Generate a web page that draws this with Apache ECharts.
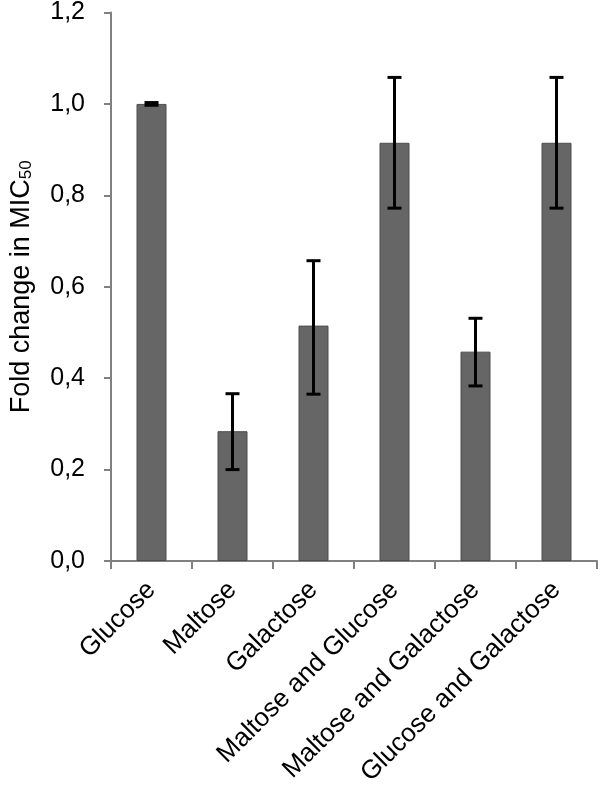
<!DOCTYPE html>
<html>
<head>
<meta charset="utf-8">
<script src="https://cdn.jsdelivr.net/npm/echarts@6/dist/echarts.min.js"></script>
<style>html,body{margin:0;padding:0;background:#fff}#c{width:600px;height:789px}</style>
</head>
<body>
<div id="c"></div>
<script>
var categories = ['Glucose', 'Maltose', 'Galactose', 'Maltose and Glucose', 'Maltose and Galactose', 'Glucose and Galactose'];
var values = [1.0, 0.284, 0.515, 0.915, 0.458, 0.915];
var errLow = [0.997, 0.200, 0.365, 0.772, 0.383, 0.772];
var errHigh = [1.003, 0.366, 0.657, 1.058, 0.531, 1.058];
var yTicks = [0, 0.2, 0.4, 0.6, 0.8, 1.0, 1.2];

var errData = categories.map(function (c, i) { return [i, errLow[i], errHigh[i]]; });
var FONT = 'Liberation Sans, Arial, sans-serif';

var chart = echarts.init(document.getElementById('c'));
chart.setOption({
  animation: false,
  backgroundColor: '#fff',
  grid: { left: 102, right: 3, top: 10, bottom: 228 },
  xAxis: {
    type: 'category',
    data: categories,
    axisLine: { lineStyle: { color: '#808080', width: 2 } },
    axisTick: { show: true, length: 8, lineStyle: { color: '#808080', width: 2 } },
    axisLabel: { rotate: 45, interval: 0, margin: 25, color: '#000', fontFamily: FONT, fontSize: 26 }
  },
  yAxis: {
    type: 'value',
    min: 0, max: 1.2, interval: 0.2,
    splitLine: { show: false },
    axisLine: { show: true, lineStyle: { color: '#808080', width: 2 } },
    axisTick: { show: true, length: 7, lineStyle: { color: '#808080', width: 2 } },
    axisLabel: {
      margin: 26, color: '#000', fontFamily: FONT, fontSize: 25,
      formatter: function (v) { return v.toFixed(1).replace('.', ','); }
    },
    name: '{a|Fold change in MIC}{b|50}',
    nameLocation: 'middle',
    nameRotate: 90,
    nameGap: 76,
    nameTextStyle: {
      rich: {
        a: { fontFamily: FONT, fontSize: 27, color: '#000' },
        b: { fontFamily: FONT, fontSize: 17, color: '#000', verticalAlign: 'bottom', padding: [10, 0, 0, 0] }
      }
    }
  },
  series: [
    {
      type: 'bar',
      data: values,
      barWidth: 30,
      itemStyle: { color: '#666666', borderColor: '#4d4d4d', borderWidth: 1 }
    },
    {
      type: 'custom',
      data: errData,
      z: 10,
      renderItem: function (params, api) {
        var x = api.value(0);
        var lo = api.coord([x, api.value(1)]);
        var hi = api.coord([x, api.value(2)]);
        var hw = 7;
        var style = { stroke: '#000', lineWidth: 3 };
        return {
          type: 'group',
          children: [
            { type: 'line', shape: { x1: lo[0], y1: lo[1], x2: hi[0], y2: hi[1] }, style: style },
            { type: 'line', shape: { x1: lo[0] - hw, y1: lo[1], x2: lo[0] + hw, y2: lo[1] }, style: style },
            { type: 'line', shape: { x1: hi[0] - hw, y1: hi[1], x2: hi[0] + hw, y2: hi[1] }, style: style }
          ]
        };
      }
    }
  ]
});
</script>
</body>
</html>
